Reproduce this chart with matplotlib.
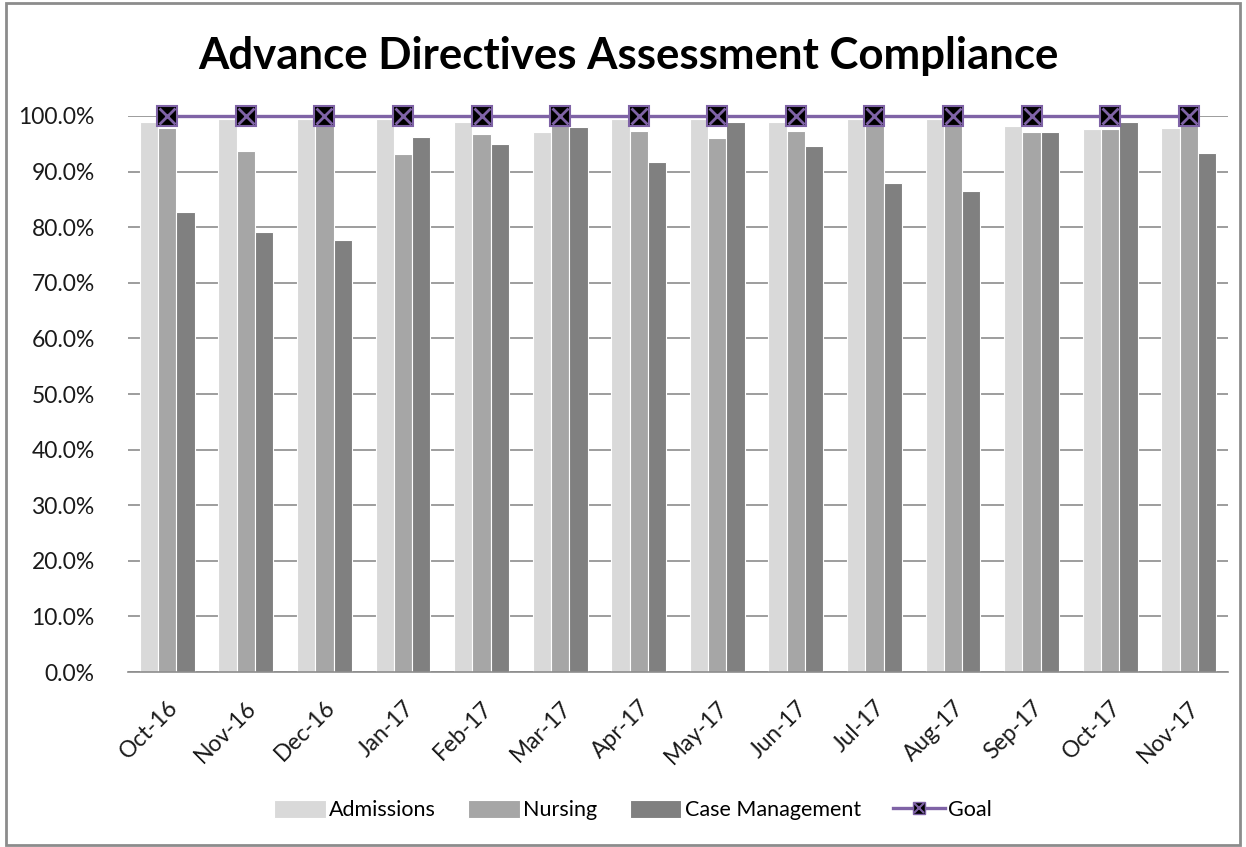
import matplotlib.pyplot as plt
import numpy as np
from matplotlib.patches import Rectangle
from matplotlib.lines import Line2D
from matplotlib.legend_handler import HandlerTuple
from matplotlib.ticker import PercentFormatter

plt.rcParams['font.family'] = ['Lato', 'DejaVu Sans']

months = ['Oct-16', 'Nov-16', 'Dec-16', 'Jan-17', 'Feb-17', 'Mar-17', 'Apr-17',
          'May-17', 'Jun-17', 'Jul-17', 'Aug-17', 'Sep-17', 'Oct-17', 'Nov-17']
admissions = [98.9, 99.5, 99.5, 99.5, 98.9, 97.1, 99.5, 99.5, 98.9, 99.5, 99.5, 98.2, 97.6, 97.8]
nursing = [97.8, 93.7, 99.6, 93.2, 96.8, 99.6, 97.3, 96.1, 97.3, 99.6, 99.6, 97.1, 97.6, 99.6]
case_mgmt = [82.8, 79.1, 77.7, 96.2, 95.0, 98.0, 91.8, 98.9, 94.6, 87.9, 86.5, 97.1, 98.9, 93.4]
goal = [100.0] * 14

fig = plt.figure(figsize=(12.46, 8.47), dpi=100)
ax = fig.add_axes([128 / 1246, 1 - 672 / 847, 1100 / 1246, 556 / 847])

x = np.arange(len(months))
w = 0.233
ax.bar(x - w, admissions, w, color='#D9D9D9', edgecolor='white', linewidth=0.8, label='Admissions', zorder=2)
ax.bar(x, nursing, w, color='#A6A6A6', edgecolor='white', linewidth=0.8, label='Nursing', zorder=2)
ax.bar(x + w, case_mgmt, w, color='#808080', edgecolor='white', linewidth=0.8, label='Case Management', zorder=2)

ax.plot(x, goal, color='#7F63A6', linewidth=2.4, zorder=3, clip_on=False)
ax.plot(x, goal, 's', color='black', markersize=14, markeredgecolor='#7F63A6',
        markeredgewidth=1.5, linestyle='none', zorder=4, clip_on=False)
ax.plot(x, goal, 'x', color='#7F63A6', markersize=11, markeredgewidth=2,
        linestyle='none', zorder=5, clip_on=False)

ax.set_xlim(-0.5, len(months) - 0.5)
ax.set_ylim(0, 100)
ax.set_yticks(np.arange(0, 101, 10))
ax.yaxis.set_major_formatter(PercentFormatter(decimals=1))
ax.grid(axis='y', color='#8C8C8C', linewidth=1.2, zorder=0)
ax.set_axisbelow(True)
for s in ['top', 'right', 'left']:
    ax.spines[s].set_visible(False)
ax.spines['bottom'].set_color('#8C8C8C')
ax.spines['bottom'].set_linewidth(1.2)
ax.tick_params(axis='y', length=0, pad=24, labelsize=16.5, labelcolor='#1a1a1a')
ax.tick_params(axis='x', length=0, pad=18, labelsize=16.5, labelcolor='#1a1a1a')
ax.set_xticks(x)
ax.set_xticklabels(months, rotation=45, ha='right', rotation_mode='anchor')

fig.text(0.504, 1 - 56 / 847, 'Advance Directives Assessment Compliance', ha='center', va='center',
         fontsize=31.5, fontweight='bold')

# legend
goal_line = Line2D([], [], color='#7F63A6', linewidth=2.4)
goal_sq = Line2D([], [], marker='s', color='black', markersize=9, markeredgecolor='#7F63A6', linestyle='none')
goal_x = Line2D([], [], marker='x', color='#7F63A6', markersize=7, markeredgewidth=1.5, linestyle='none')
handles, labels = ax.get_legend_handles_labels()
handles = handles[:3] + [(goal_line, goal_sq, goal_x)]
labels = ['Admissions', 'Nursing', 'Case Management', 'Goal']
fig.legend(handles, labels, loc='center', bbox_to_anchor=(0.508, 1 - 810 / 847), ncol=4, frameon=False,
           fontsize=15.5, handlelength=2.4, handleheight=0.9, handletextpad=0.15, columnspacing=1.5,
           handler_map={tuple: HandlerTuple(ndivide=1, pad=0)})

fig.patches.append(Rectangle((6 / 1246, 2 / 847), 1234 / 1246, 842 / 847, transform=fig.transFigure,
                             fill=False, edgecolor='#8C8C8C', linewidth=2))

fig.savefig('out.png', dpi=100)
